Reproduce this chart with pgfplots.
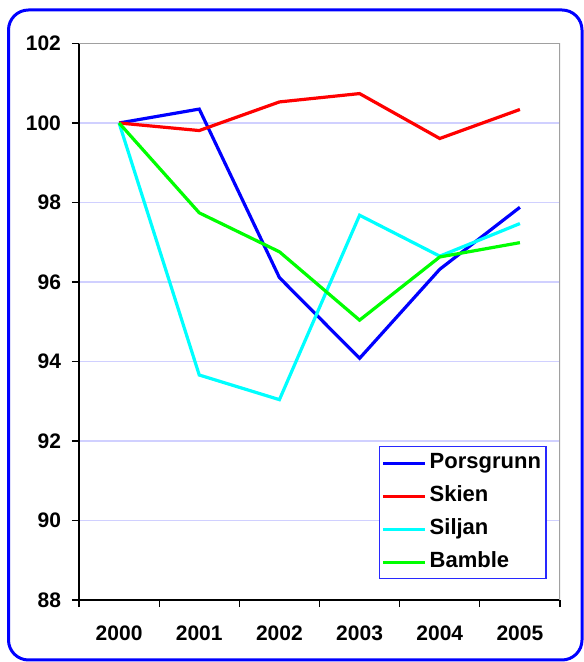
\documentclass[border=0pt]{standalone}
\usepackage{pgfplots}
\pgfplotsset{compat=1.18}
\usepackage{pgfplotstable}
\usepackage{fontspec}
\setmainfont{Liberation Sans}

\definecolor{gridblue}{RGB}{208,208,255}
\definecolor{framegray}{RGB}{160,160,160}
\definecolor{legblue}{RGB}{40,40,255}
\definecolor{cPors}{RGB}{0,0,255}
\definecolor{cSkien}{RGB}{255,0,0}
\definecolor{cSiljan}{RGB}{0,255,255}
\definecolor{cBamble}{RGB}{0,255,0}

\pgfplotstableread{
x P S Si B
0 100 100 100 100
1 100.35 99.81 93.66 97.74
2 96.11 100.53 93.04 96.76
3 94.08 100.74 97.68 95.04
4 96.32 99.61 96.65 96.63
5 97.88 100.34 97.47 96.99
}\indexdata

\begin{document}
\begin{tikzpicture}
\path[use as bounding box] (0,0) rectangle (291.5pt,331pt);
\draw[blue, line width=1.5pt, rounded corners=10pt] (4.25pt,1pt) rectangle (291pt,326pt);
\begin{axis}[
  at={(39.5pt,31pt)}, anchor=south west,
  scale only axis, width=240.5pt, height=278.25pt,
  xmin=-0.5, xmax=5.5, ymin=88, ymax=102,
  axis x line*=bottom, axis y line*=left,
  axis line style={black, line width=0.6pt},
  xtick={0,...,5},
  xticklabels={2000,2001,2002,2003,2004,2005},
  minor xtick={-0.5,0.5,...,5.5},
  ytick={88,90,...,102},
  tick align=outside,
  major tick length=3.5pt, minor tick length=3.5pt,
  x tick style={draw=none},
  minor x tick style={draw=black, line width=0.6pt},
  y tick style={black, line width=0.6pt},
  ymajorgrids,
  major grid style={gridblue, line width=0.6pt},
  /pgf/number format/assume math mode=true,
  ticklabel style={font=\fontsize{10.5}{12}\selectfont\bfseries},
  xticklabel style={yshift=-6pt},
  yticklabel style={xshift=-2pt},
  every axis plot/.append style={line width=1.6pt},
  legend cell align=left,
  legend image code/.code={\draw[#1] (0pt,0pt) -- (21pt,0pt);},
  legend style={at={(0.972,0.037)}, anchor=south east,
    draw=legblue, line width=0.6pt, inner xsep=1pt, inner ysep=0pt,
    font=\fontsize{11}{12}\selectfont\bfseries,
    nodes={text height=8pt, text depth=2.5pt, inner ysep=3pt, inner xsep=1.5pt},
    row sep=0pt},
]
\addplot[cPors] table[x=x, y=P] {\indexdata};
\addlegendentry{Porsgrunn}
\addplot[cSkien] table[x=x, y=S] {\indexdata};
\addlegendentry{Skien}
\addplot[cSiljan] table[x=x, y=Si] {\indexdata};
\addlegendentry{Siljan}
\addplot[cBamble] table[x=x, y=B] {\indexdata};
\addlegendentry{Bamble}
\draw[framegray, line width=0.6pt] (rel axis cs:0,1) -- (rel axis cs:1,1) -- (rel axis cs:1,0);
\end{axis}
\end{tikzpicture}
\end{document}
